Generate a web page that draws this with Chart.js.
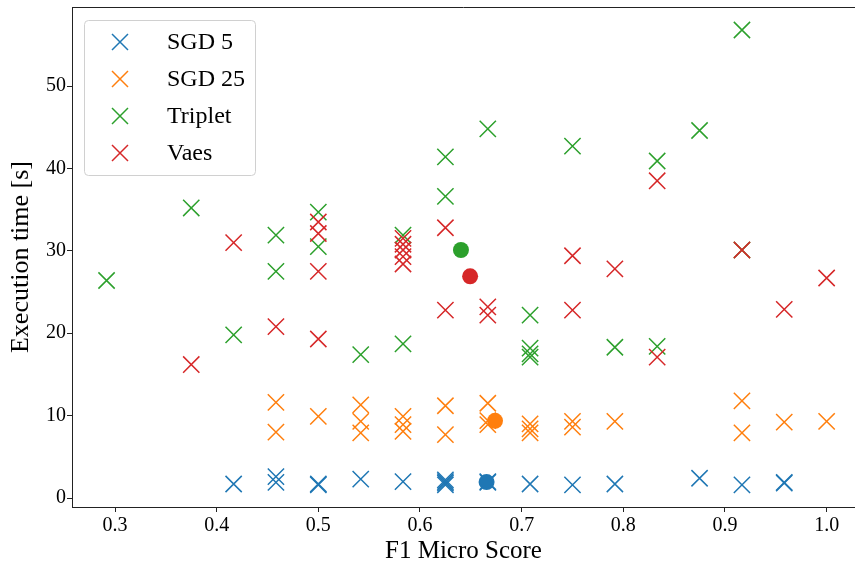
<!DOCTYPE html>
<html>
<head>
<meta charset="utf-8">
<script src="https://cdn.jsdelivr.net/npm/chart.js@4"></script>
<style>
  html, body { margin: 0; padding: 0; background: #fff; }
</style>
</head>
<body>
<canvas id="chart" width="855" height="568"></canvas>
<script>
const labels = ['SGD 5', 'SGD 25', 'Triplet', 'Vaes'];
const colors = ['#1f77b4', '#ff7f0e', '#2ca02c', '#d62728'];

// F1 micro score (x) and execution time in seconds (y), one entry per run
const sgd5X = [0.4167, 0.4583, 0.4583, 0.5, 0.5, 0.5417, 0.5833, 0.625, 0.625, 0.625, 0.625,
  0.6667, 0.6667, 0.7083, 0.75, 0.7917, 0.875, 0.9167, 0.9583, 0.9583];
const sgd5Y = [1.7, 2.6, 1.9, 1.6, 1.7, 2.3, 2.0, 1.6, 1.8, 2.0, 2.2,
  1.9, 2.0, 1.7, 1.6, 1.7, 2.4, 1.6, 1.8, 1.9];

const sgd25X = [0.4583, 0.4583, 0.5, 0.5417, 0.5417, 0.5417, 0.5833, 0.5833, 0.5833, 0.625, 0.625,
  0.6667, 0.6667, 0.6667, 0.7083, 0.7083, 0.7083, 0.75, 0.75, 0.7917, 0.9167, 0.9167, 0.9583, 1.0];
const sgd25Y = [11.6, 8.0, 9.9, 11.3, 9.3, 7.9, 9.9, 8.9, 8.1, 11.2, 7.7,
  11.5, 8.9, 9.4, 9.0, 8.4, 7.9, 9.3, 8.6, 9.3, 11.8, 7.9, 9.2, 9.3];

const tripletX = [0.2917, 0.375, 0.4167, 0.4583, 0.4583, 0.5, 0.5, 0.5417, 0.5833, 0.5833, 0.625, 0.625,
  0.6667, 0.7083, 0.7083, 0.7083, 0.7083, 0.75, 0.7917, 0.8333, 0.8333, 0.875, 0.9167, 0.9167];
const tripletY = [26.4, 35.2, 19.8, 31.9, 27.5, 34.7, 30.5, 17.4, 31.9, 18.7, 41.4, 36.6,
  44.8, 22.2, 18.2, 17.5, 17.1, 42.7, 18.3, 40.9, 18.4, 44.6, 56.8, 30.1];

const vaesX = [0.375, 0.4167, 0.4583, 0.5, 0.5, 0.5, 0.5, 0.5833, 0.5833, 0.5833, 0.5833, 0.5833,
  0.625, 0.625, 0.6667, 0.6667, 0.75, 0.75, 0.7917, 0.8333, 0.8333, 0.9167, 0.9583, 1.0];
const vaesY = [16.2, 31.0, 20.8, 33.5, 32.1, 27.5, 19.3, 31.5, 30.8, 30.1, 29.3, 28.4,
  32.8, 22.8, 23.2, 22.2, 29.4, 22.8, 27.8, 38.5, 17.1, 30.1, 22.9, 26.7];

// mean of each method (filled dots)
const meanX = [0.6655, 0.6738, 0.6403, 0.6493];
const meanY = [1.94, 9.37, 30.1, 26.9];

const xTicks = [0.3, 0.4, 0.5, 0.6, 0.7, 0.8, 0.9, 1.0];
const yTicks = [0, 10, 20, 30, 40, 50];

const seriesX = [sgd5X, sgd25X, tripletX, vaesX];
const seriesY = [sgd5Y, sgd25Y, tripletY, vaesY];

const toPoints = (xs, ys) => xs.map((x, i) => ({ x: x, y: ys[i] }));

const datasets = [];
labels.forEach((name, i) => {
  datasets.push({
    label: name,
    data: toPoints(seriesX[i], seriesY[i]),
    pointStyle: 'crossRot',
    pointRadius: 11.5,
    pointBorderWidth: 1.5,
    borderColor: colors[i],
    backgroundColor: colors[i],
    order: 20 - i
  });
});
labels.forEach((name, i) => {
  datasets.push({
    label: name + ' mean',
    data: [{ x: meanX[i], y: meanY[i] }],
    pointStyle: 'circle',
    pointRadius: 8,
    pointBorderWidth: 0,
    borderColor: colors[i],
    backgroundColor: colors[i],
    order: 10 - i
  });
});

const SERIF = "'Liberation Serif', 'Times New Roman', serif";

// top spine + matplotlib-like legend box
const frameAndLegend = {
  id: 'frameAndLegend',
  afterDraw(chart) {
    const { ctx, chartArea } = chart;
    ctx.save();
    ctx.strokeStyle = '#222';
    ctx.lineWidth = 1;
    ctx.beginPath();
    ctx.moveTo(chartArea.left, chartArea.top + 0.5);
    ctx.lineTo(chartArea.right, chartArea.top + 0.5);
    ctx.stroke();

    const bx = 84.5, by = 20.5, bw = 171, bh = 155;
    ctx.beginPath();
    ctx.roundRect(bx, by, bw, bh, 4);
    ctx.fillStyle = 'rgba(255,255,255,0.8)';
    ctx.fill();
    ctx.strokeStyle = '#d0d0d0';
    ctx.stroke();

    const rowY = [42, 79, 116, 153];
    ctx.font = '24px ' + SERIF;
    ctx.textBaseline = 'middle';
    ctx.textAlign = 'left';
    labels.forEach((name, i) => {
      const cx = 120, cy = rowY[i], h = 8;
      ctx.strokeStyle = colors[i];
      ctx.lineWidth = 1.5;
      ctx.beginPath();
      ctx.moveTo(cx - h, cy - h); ctx.lineTo(cx + h, cy + h);
      ctx.moveTo(cx - h, cy + h); ctx.lineTo(cx + h, cy - h);
      ctx.stroke();
      ctx.fillStyle = '#000';
      ctx.fillText(name, 167, cy + 1);
    });
    ctx.restore();
  }
};

Chart.defaults.color = '#000';
Chart.defaults.font.family = SERIF;

new Chart(document.getElementById('chart').getContext('2d'), {
  type: 'scatter',
  data: { datasets: datasets },
  options: {
    responsive: false,
    animation: false,
    devicePixelRatio: 1,
    layout: { autoPadding: false, padding: { top: 7, right: 0, bottom: 0, left: 0 } },
    plugins: { legend: { display: false }, tooltip: { enabled: false } },
    scales: {
      x: {
        type: 'linear',
        min: 0.2577,
        max: 1.0279,
        afterBuildTicks: s => { s.ticks = xTicks.map(v => ({ value: v })); },
        afterFit: s => { s.height = 61; s.paddingLeft = 0; s.paddingRight = 0; },
        ticks: { font: { size: 20 }, padding: 2, callback: v => v.toFixed(1) },
        grid: { drawOnChartArea: false, tickLength: 5, tickColor: '#222' },
        border: { color: '#222', width: 1 },
        title: { display: true, text: 'F1 Micro Score', font: { size: 25 }, padding: { top: 0, bottom: 2 } }
      },
      y: {
        min: -1.09,
        max: 59.59,
        afterBuildTicks: s => { s.ticks = yTicks.map(v => ({ value: v })); },
        afterFit: s => { s.width = 72; s.paddingTop = 0; s.paddingBottom = 0; },
        ticks: { font: { size: 20 }, padding: 1 },
        grid: { drawOnChartArea: false, tickLength: 5, tickColor: '#222' },
        border: { color: '#222', width: 1 },
        title: { display: true, text: 'Execution time [s]', font: { size: 26 }, padding: { top: 6, bottom: 0 } }
      }
    }
  },
  plugins: [frameAndLegend]
});
</script>
</body>
</html>
